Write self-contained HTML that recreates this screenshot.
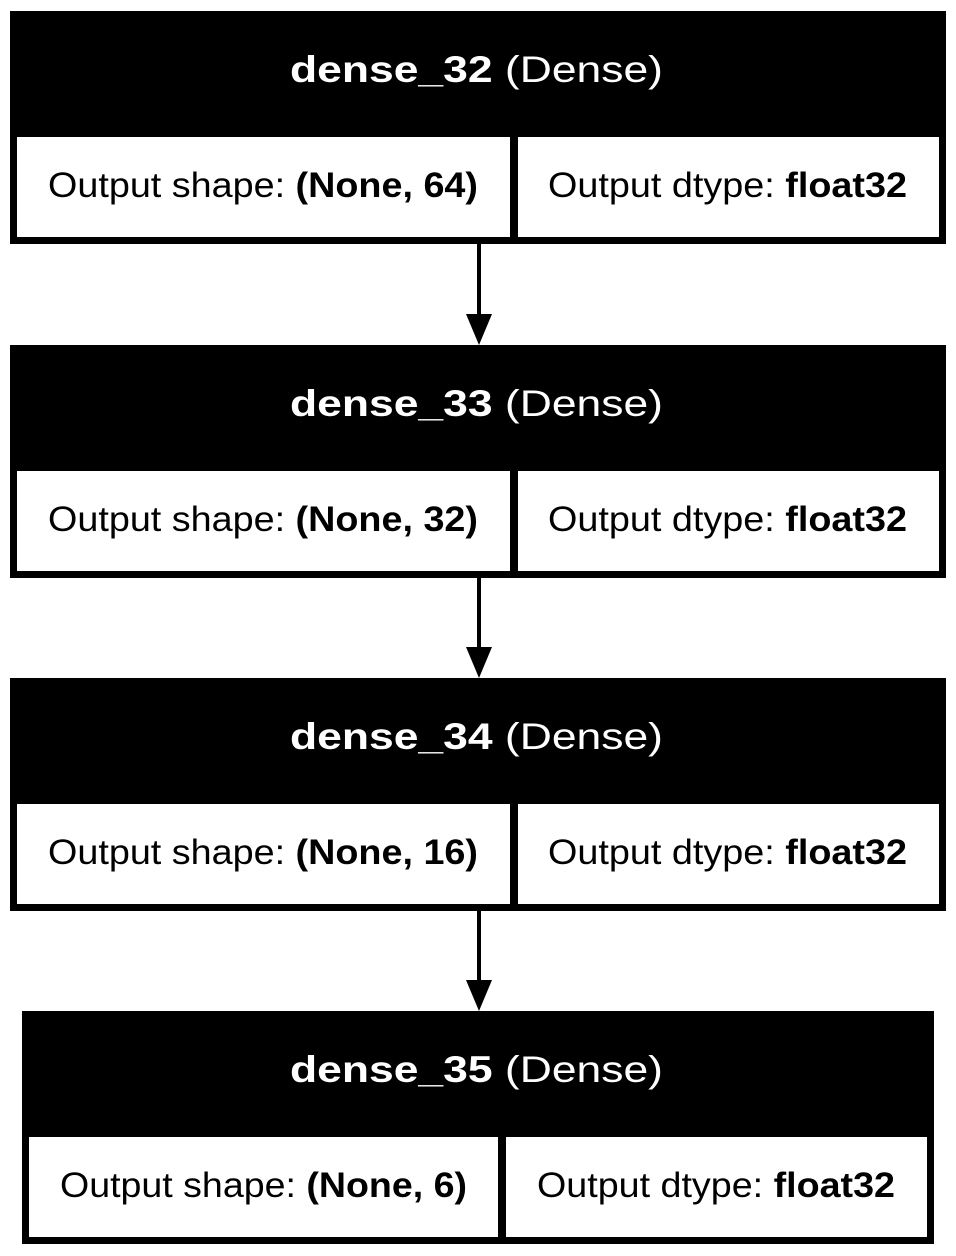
<!DOCTYPE html>
<html><head><meta charset="utf-8"><style>
html,body{margin:0;padding:0;background:#fff;}
svg{display:block;}
text{font-family:"Liberation Sans",Arial,sans-serif;}
</style></head><body>
<svg width="956" height="1256" viewBox="0 0 956 1256">
<g id="root"></g>
</svg>
<script>
const layerNames = ["dense_32","dense_33","dense_34","dense_35"];
const layerTypes = ["Dense","Dense","Dense","Dense"];
const shapes = ["(None, 64)","(None, 32)","(None, 16)","(None, 6)"];
const dtypes = ["float32","float32","float32","float32"];

const NS="http://www.w3.org/2000/svg";
const root=document.getElementById('root');
function mk(tag,attrs,parent){const e=document.createElementNS(NS,tag);for(const k in attrs)e.setAttribute(k,attrs[k]);parent.appendChild(e);return e;}
const tops=[11,345,678,1011];
layerNames.forEach((n,i)=>{
  const last=i===layerNames.length-1;
  const x0=last?22:10, x1=last?934:946, y0=tops[i], y1=y0+233;
  const g=mk('g',{},root);
  
  
  mk('rect',{x:x0,y:y0,width:x1-x0,height:y1-y0,fill:'#000'},g);
  const t=mk('text',{x:290,y:y0+71,'font-size':37,fill:'#fff',textLength:373,lengthAdjust:'spacingAndGlyphs'},g);
  
  
  const b=mk('tspan',{'font-weight':'bold'},t);b.textContent=n;
  const s=mk('tspan',{},t);s.textContent=' ('+layerTypes[i]+')';
  const lx0=x0+7, split=last?502:514, rx1=x1-7, cy0=y0+126, cy1=y1-7;
  mk('rect',{x:lx0,y:cy0,width:split-4-lx0,height:cy1-cy0,fill:'#fff'},g);
  mk('rect',{x:split+4,y:cy0,width:rx1-split-4,height:cy1-cy0,fill:'#fff'},g);
  const lx=last?60:48, lw=last?407:430, rx=last?537:548, rw=last?358:359;
  const lt=mk('text',{x:lx,y:y0+186,'font-size':35,fill:'#000',textLength:lw,lengthAdjust:'spacingAndGlyphs'},g);
  
  
  mk('tspan',{},lt).textContent='Output shape: ';
  mk('tspan',{'font-weight':'bold'},lt).textContent=shapes[i];
  const rt=mk('text',{x:rx,y:y0+186,'font-size':35,fill:'#000',textLength:rw,lengthAdjust:'spacingAndGlyphs'},g);
  
  
  mk('tspan',{},rt).textContent='Output dtype: ';
  mk('tspan',{'font-weight':'bold'},rt).textContent=dtypes[i];
  if(!last){
    const a=mk('g',{},root);
    
    
    const ny=tops[i+1];
    mk('line',{x1:479,y1:y1,x2:479,y2:ny-30,stroke:'#000','stroke-width':4},a);
    mk('polygon',{points:`466,${ny-31} 492,${ny-31} 479,${ny}`,fill:'#000'},a);
  }
});
</script>
</body></html>
